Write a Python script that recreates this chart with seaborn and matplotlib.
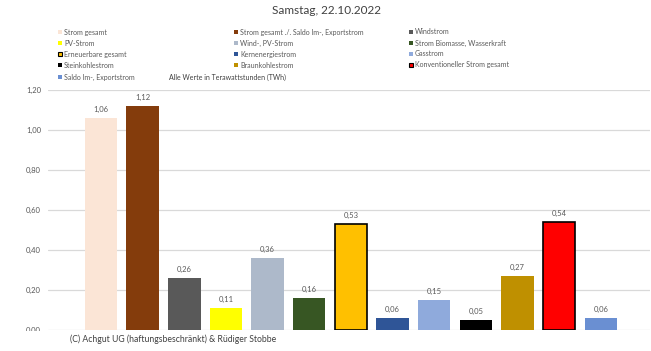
import matplotlib
matplotlib.use("Agg")
import matplotlib.pyplot as plt
import seaborn as sns
import pandas as pd
from matplotlib.patches import Rectangle

categories = ["Strom gesamt", "Strom gesamt ./. Saldo Im-, Exportstrom", "Windstrom",
              "PV-Strom", "Wind-, PV-Strom", "Strom Biomasse, Wasserkraft",
              "Erneuerbare gesamt", "Kernenergiestrom", "Gasstrom",
              "Steinkohlestrom", "Braunkohlestrom", "Konventioneller Strom gesamt",
              "Saldo Im-, Exportstrom"]
values = [1.06, 1.12, 0.26, 0.11, 0.36, 0.16, 0.53, 0.06, 0.15, 0.05, 0.27, 0.54, 0.06]
colors = ["#FBE5D6", "#843C0C", "#595959", "#FFFF00", "#ADB9CA", "#375623",
          "#FFC000", "#2F5597", "#8FAADC", "#000000", "#BF9000", "#FF0000", "#6A8FD2"]
edges = [None, None, None, None, None, None, "#000000", None, None, None, None, "#000000", None]
yticks = [0.0, 0.2, 0.4, 0.6, 0.8, 1.0, 1.2]
title = "Samstag, 22.10.2022"
unit_note = "Alle Werte in Terawattstunden (TWh)"
copyright_text = "(C) Achgut UG (haftungsbeschränkt) & Rüdiger Stobbe"

sns.set_theme(style="white")
plt.rcParams["font.family"] = ["Lato", "DejaVu Sans"]

W, H = 651, 351
fig = plt.figure(figsize=(W / 100, H / 100), dpi=100)
ax = fig.add_axes([48 / W, 1 - 330 / H, (650 - 48) / W, 240 / H])

df = pd.DataFrame({"cat": categories, "val": values})
sns.barplot(data=df, x="cat", y="val", hue="cat", palette=colors, order=categories,
            hue_order=categories, legend=False, width=0.78, ax=ax, saturation=1)

for i, p in enumerate(ax.patches):
    if edges[i]:
        p.set_edgecolor(edges[i])
        p.set_linewidth(1.2)
    else:
        p.set_linewidth(0)

for i, v in enumerate(values):
    ax.text(i, v + 0.025, f"{v:.2f}".replace(".", ","), ha="center", va="bottom",
            fontsize=5.5, color="#595959")

ax.set_xlim((48 - 101) / 41.65, (650 - 101) / 41.65)
ax.set_ylim(0, 1.2)
ax.set_yticks(yticks)
ax.set_yticklabels([f"{t:.2f}".replace(".", ",") for t in yticks], fontsize=5.5, color="#595959")
ax.tick_params(axis="y", length=0, pad=5)
ax.set_xticks([])
ax.set_xlabel("")
ax.set_ylabel("")
ax.grid(axis="y", color="#D9D9D9", linewidth=0.9)
ax.set_axisbelow(True)
for s in ax.spines.values():
    s.set_visible(False)

fig.text(326 / W, 1 - 11 / H, title, ha="center", va="center", fontsize=8.5, color="#404040")

col_x = [60, 236, 411]
row_y = [32, 43, 54, 65, 77]
for i, (c, col, e) in enumerate(zip(categories, colors, edges)):
    r, k = divmod(i, 3)
    x = col_x[k]
    y = row_y[r]
    sz = 4.5 if e else 3.6
    fig.patches.append(Rectangle(((x - sz / 2) / W, 1 - (y + sz / 2) / H), sz / W, sz / H,
                                 transform=fig.transFigure, facecolor=col,
                                 edgecolor=e if e else col, linewidth=0.8 if e else 0))
    fig.text((x + 4) / W, 1 - y / H, c, ha="left", va="center", fontsize=5, color="#595959")
fig.text(169 / W, 1 - 77 / H, unit_note, ha="left", va="center", fontsize=5, color="#404040")

fig.patches.append(Rectangle((15 / W, 1 - 349 / H), 265 / W, 18.5 / H, transform=fig.transFigure,
                             facecolor="white", edgecolor="none", zorder=2))
fig.text(70 / W, 1 - 339 / H, copyright_text, ha="left", va="center", fontsize=6.2,
         color="#404040", zorder=3)

fig.savefig("out.png", dpi=100)
